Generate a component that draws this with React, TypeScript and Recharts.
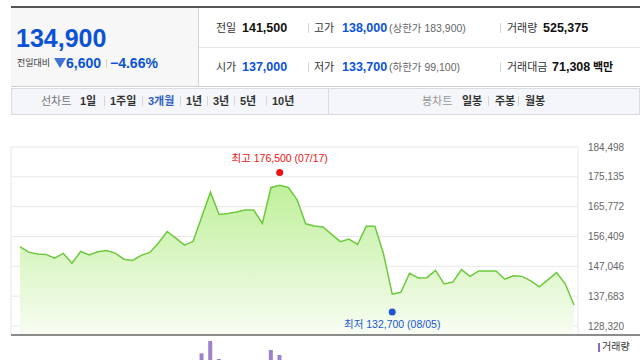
import React from 'react';
import { AreaChart, Area, BarChart, Bar, XAxis, YAxis, CartesianGrid, ReferenceDot } from 'recharts';

const dates = [
  '06/04', '06/05', '06/07', '06/10', '06/11', '06/12', '06/13', '06/14', '06/17', '06/18',
  '06/19', '06/20', '06/21', '06/24', '06/25', '06/26', '06/27', '06/28', '07/01', '07/02',
  '07/03', '07/04', '07/05', '07/08', '07/09', '07/10', '07/11', '07/12', '07/15', '07/16',
  '07/17', '07/18', '07/19', '07/22', '07/23', '07/24', '07/25', '07/26', '07/29', '07/30',
  '07/31', '08/01', '08/02', '08/05', '08/06', '08/07', '08/08', '08/09', '08/12', '08/13',
  '08/14', '08/16', '08/19', '08/20', '08/21', '08/22', '08/23', '08/26', '08/27', '08/28',
  '08/29', '08/30', '09/02', '09/03', '09/04',
];

const closes = [
  153200, 151500, 150900, 150800, 149600, 151100, 148000, 151700, 150600, 151600,
  152000, 151200, 149300, 148900, 150500, 151400, 154400, 158000, 155900, 153700,
  154900, 162600, 170300, 163300, 163600, 164100, 164700, 164700, 160500, 171800,
  172500, 171800, 168000, 160400, 159700, 159400, 157100, 154800, 155600, 153900,
  159600, 159600, 150900, 138300, 138900, 144900, 143400, 143500, 145800, 141500,
  142100, 146000, 143900, 145600, 145600, 145600, 143000, 144100, 143900, 142500,
  140600, 142900, 145100, 141500, 134900,
];

const volumes = [
  820000, 760000, 690000, 640000, 700000, 610000, 880000, 920000, 650000, 600000,
  580000, 560000, 700000, 640000, 720000, 610000, 1150000, 1680000, 1240000, 980000,
  870000, 2600000, 2970000, 2430000, 1350000, 1020000, 960000, 890000, 1420000, 2700000,
  2550000, 1600000, 1480000, 1750000, 1100000, 920000, 880000, 1050000, 780000, 850000,
  1300000, 1020000, 1650000, 2150000, 1200000, 900000, 760000, 680000, 700000, 640000,
  620000, 710000, 590000, 560000, 600000, 540000, 520000, 580000, 550000, 610000,
  640000, 590000, 520000, 560000, 525375,
];

const gridDates = ['06/04', '06/13', '06/21', '06/28', '07/05', '07/12', '07/19', '07/26', '08/02', '08/09', '08/16', '08/23', '08/30'];
const priceTicks = [128320, 137683, 147046, 156409, 165772, 175135, 184498];
const priceDomain = [125500, 184498];
const volumeDomain = [0, 3000000];

const highMark = { date: '07/17', price: 176500, text: '최고 176,500 (07/17)' };
const lowMark = { date: '08/05', price: 132700, text: '최저 132,700 (08/05)' };

const periodTabs = ['1일', '1주일', '3개월', '1년', '3년', '5년', '10년'];
const periodX = [80, 110, 148, 186, 213, 240, 272];
const candleTabs = ['일봉', '주봉', '월봉'];
const candleX = [462, 495, 525];

const data = dates.map((date, i) => ({ date, close: closes[i], volume: volumes[i] }));

const FONT = '"Liberation Sans", Arial, "Noto Sans CJK KR", sans-serif';
const BLUE = '#0b52d6';
const RED = '#ee1111';

function Txt({ x, y, size = 11, color = '#333', bold = false, children }: any) {
  return (
    <span
      style={{
        position: 'absolute', left: x, top: y - 10, lineHeight: '20px', fontSize: size,
        color, fontWeight: bold ? 700 : 400, whiteSpace: 'nowrap',
      }}
    >
      {children}
    </span>
  );
}

function Divider({ x, y, h = 10, color = '#d6d6d6' }: any) {
  return <div style={{ position: 'absolute', left: x, top: y - h / 2, width: 1, height: h, background: color }} />;
}

const markShape = (color: string, text: string, dy: number) => (props: any) => {
  const { cx, cy } = props;
  return (
    <g>
      <circle cx={cx} cy={cy} r={3.5} fill={color} />
      <text x={cx} y={cy + dy} textAnchor="middle" fontSize={10.5} fill={color} fontFamily={FONT}>{text}</text>
    </g>
  );
};

export default function App() {
  return (
    <div style={{ position: 'absolute', left: 0, top: 0, width: 640, height: 360, overflow: 'hidden', background: '#fff', fontFamily: FONT }}>
      {/* header */}
      <div style={{ position: 'absolute', left: 11, top: 6, width: 629, height: 2, background: '#555' }} />
      <div style={{ position: 'absolute', left: 11, top: 8, width: 187, height: 78, background: '#f7f7f8' }} />
      <div style={{ position: 'absolute', left: 198, top: 8, width: 1, height: 78, background: '#d4d4d4' }} />
      <div style={{ position: 'absolute', left: 199, top: 47, width: 441, height: 1, background: '#e6e6e6' }} />
      <div style={{ position: 'absolute', left: 11, top: 86, width: 629, height: 1, background: '#cfcfcf' }} />

      <Txt x={16} y={38} size={25} color={BLUE} bold>134,900</Txt>
      <Txt x={17} y={63} size={9} color="#333">전일대비</Txt>
      <div style={{ position: 'absolute', left: 54, top: 58, width: 0, height: 0, borderLeft: '6px solid transparent', borderRight: '6px solid transparent', borderTop: '10px solid #3f72d8' }} />
      <Txt x={66} y={63} size={14} color={BLUE} bold>6,600</Txt>
      <Divider x={106} y={63} h={9} />
      <Txt x={110} y={63} size={14} color={BLUE} bold>−4.66%</Txt>

      <Txt x={216} y={28}>전일</Txt>
      <Txt x={242} y={28} size={12.5} color="#111" bold>141,500</Txt>
      <Divider x={308} y={28} />
      <Txt x={314} y={28}>고가</Txt>
      <Txt x={342} y={28} size={12.5} color={BLUE} bold>138,000</Txt>
      <Txt x={389} y={28} size={10.5} color="#666">(상한가 183,900)</Txt>
      <Divider x={500} y={28} />
      <Txt x={507} y={28}>거래량</Txt>
      <Txt x={543} y={28} size={12.5} color="#111" bold>525,375</Txt>

      <Txt x={216} y={67}>시가</Txt>
      <Txt x={242} y={67} size={12.5} color={BLUE} bold>137,000</Txt>
      <Divider x={308} y={67} />
      <Txt x={314} y={67}>저가</Txt>
      <Txt x={342} y={67} size={12.5} color={BLUE} bold>133,700</Txt>
      <Txt x={389} y={67} size={10.5} color="#666">(하한가 99,100)</Txt>
      <Divider x={500} y={67} />
      <Txt x={507} y={67}>거래대금</Txt>
      <Txt x={552} y={67} size={12.5} color="#111" bold>71,308</Txt>
      <Txt x={593} y={67} size={11} color="#111" bold>백만</Txt>

      {/* period tabs */}
      <div style={{ position: 'absolute', left: 11, top: 88, width: 627, height: 25, background: '#f4f6f9', border: '1px solid #d9dce1' }} />
      <div style={{ position: 'absolute', left: 328, top: 89, width: 1, height: 25, background: '#d9dce1' }} />
      <Txt x={41} y={101} color="#777">선차트</Txt>
      {periodTabs.map((t, i) => (
        <React.Fragment key={t}>
          {i > 0 && <Divider x={periodX[i] - 6} y={101} h={10} />}
          <Txt x={periodX[i]} y={101} color={t === '3개월' ? '#2f5fc4' : '#333'} bold>{t}</Txt>
        </React.Fragment>
      ))}
      <Txt x={422} y={101} color="#999">봉차트</Txt>
      {candleTabs.map((t, i) => (
        <React.Fragment key={t}>
          {i > 0 && <Divider x={candleX[i] - 7} y={101} h={10} />}
          <Txt x={candleX[i]} y={101} color="#333" bold>{t}</Txt>
        </React.Fragment>
      ))}

      {/* price chart */}
      <div style={{ position: 'absolute', left: 0, top: 130 }}>
        <AreaChart width={640} height={210} data={data} margin={{ top: 17, right: 0, bottom: 5, left: 11 }}>
          <defs>
            <linearGradient id="priceFill" x1="0" y1="0" x2="0" y2="1">
              <stop offset="0%" stopColor="#bff09a" />
              <stop offset="100%" stopColor="#f8fdf3" />
            </linearGradient>
          </defs>
          <CartesianGrid stroke="#e8e8e8" />
          <XAxis
            dataKey="date"
            ticks={gridDates}
            interval={0}
            tick={false}
            tickLine={false}
            axisLine={false}
            height={0}
            padding={{ left: 9, right: 4 }}
          />
          <YAxis
            orientation="right"
            width={62}
            type="number"
            domain={priceDomain}
            ticks={priceTicks}
            interval={0}
            axisLine={false}
            tickLine={false}
            tickMargin={4}
            tick={{ fontSize: 10, fill: '#666', fontFamily: '"Liberation Sans Narrow", "Liberation Sans", sans-serif' }}
            tickFormatter={(v: number) => v.toLocaleString('en-US')}
          />
          <Area
            type="linear"
            dataKey="close"
            stroke="#6cc93d"
            strokeWidth={1.5}
            fill="url(#priceFill)"
            fillOpacity={1}
            dot={false}
            activeDot={false}
            isAnimationActive={false}
          />
          <ReferenceDot x={highMark.date} y={highMark.price} r={3.5} shape={markShape(RED, highMark.text, -10)} />
          <ReferenceDot x={lowMark.date} y={lowMark.price} r={3.5} shape={markShape('#1a56d0', lowMark.text, 16)} />
        </AreaChart>
      </div>
      <div style={{ position: 'absolute', left: 11, top: 334, width: 629, height: 2, background: '#8c8c8c' }} />

      {/* volume chart */}
      <div style={{ position: 'absolute', left: 0, top: 340 }}>
        <BarChart width={640} height={100} data={data} margin={{ top: 0, right: 61.4, bottom: 0, left: 15.7 }}>
          <XAxis dataKey="date" hide />
          <YAxis hide domain={volumeDomain} />
          <Bar dataKey="volume" fill="#9b82cb" barSize={4} isAnimationActive={false} />
        </BarChart>
      </div>
      <div style={{ position: 'absolute', left: 598, top: 343, width: 2, height: 9, background: '#8a6cc4' }} />
      <Txt x={602} y={347} size={10} color="#333">거래량</Txt>
    </div>
  );
}
